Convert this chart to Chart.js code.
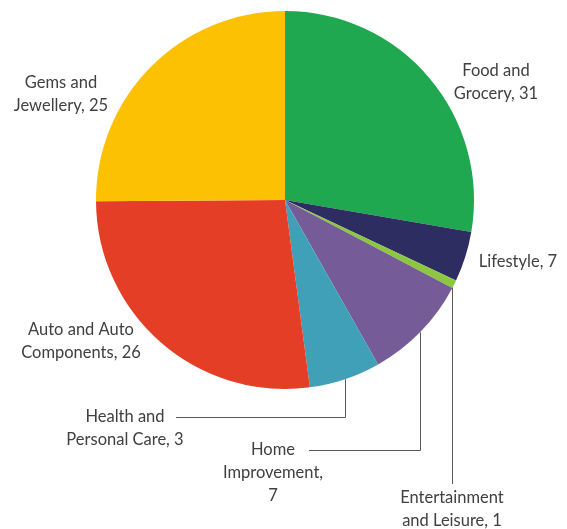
<!DOCTYPE html>
<html>
<head>
<meta charset="utf-8">
<script src="https://cdn.jsdelivr.net/npm/chart.js@4"></script>
<style>
  html, body { margin: 0; padding: 0; background: #fff; }
  #wrap { width: 567px; height: 529px; }
</style>
</head>
<body>
<div id="wrap"><canvas id="pie" width="567" height="529"></canvas></div>
<script>
// Categories, clockwise from 12 o'clock
const categories = ['Food and Grocery', 'Lifestyle', 'Entertainment and Leisure', 'Home Improvement',
    'Health and Personal Care', 'Auto and Auto Components', 'Gems and Jewellery'];
// Slice sizes as drawn (share, %)
const sliceValues = [27.7, 4.3, 0.7, 9.1, 6.1, 27.0, 25.1];
// Values printed in the data labels
const labelValues = [31, 7, 1, 7, 3, 26, 25];
// Label text lines
const labelLines = [
    ['Food and', 'Grocery, 31'],
    ['Lifestyle, 7'],
    ['Entertainment', 'and Leisure, 1'],
    ['Home', 'Improvement,', '7'],
    ['Health and', 'Personal Care, 3'],
    ['Auto and Auto', 'Components, 26'],
    ['Gems and', 'Jewellery, 25']
];
const sliceColors = ['#1fa84f', '#2e2d62', '#8dc63f', '#755c98', '#3fa0b8', '#e43e26', '#fbc102'];

// where each label sits (text centre, first line) and how its leader runs
const labelPlace = [
    { x: 496, y: 71 },
    { x: 518, y: 262 },
    { x: 452, y: 498, leader: 'down', lx: 452.5, ly: 484 },
    { x: 273, y: 450, leader: 'elbow', lx: 420, hx: 309 },
    { x: 125, y: 417, leader: 'elbow', lx: 345, hx: 176 },
    { x: 81, y: 330 },
    { x: 61, y: 83 }
];

const labelPlugin = {
    id: 'sliceLabels',
    afterDraw(chart) {
        const ctx = chart.ctx;
        const arc = chart.getDatasetMeta(0).data[0];
        const cx = arc.x, cy = arc.y, r = arc.outerRadius;
        ctx.save();
        ctx.font = '16.5px Lato, "Open Sans", sans-serif';
        ctx.fillStyle = '#404040';
        ctx.textAlign = 'center';
        ctx.textBaseline = 'middle';
        labelLines.forEach((lines, i) => {
            const p = labelPlace[i];
            lines.forEach((t, k) => ctx.fillText(t, p.x, p.y + k * 23));

            if (!p.leader) return;
            // point on the pie edge straight above the leader's x
            const edgeY = cy + Math.sqrt(r * r - (p.lx - cx) * (p.lx - cx));
            ctx.strokeStyle = '#595959';
            ctx.lineWidth = 1;
            ctx.beginPath();
            if (p.leader === 'down') {
                ctx.moveTo(p.lx, edgeY);
                ctx.lineTo(p.lx, p.ly);
            } else {
                ctx.moveTo(p.hx, p.y + 0.5);
                ctx.lineTo(p.lx + 0.5, p.y + 0.5);
                ctx.lineTo(p.lx + 0.5, edgeY);
            }
            ctx.stroke();
        });
        ctx.restore();
    }
};

new Chart(document.getElementById('pie'), {
    type: 'pie',
    data: {
        labels: categories,
        datasets: [{
            data: sliceValues,
            backgroundColor: sliceColors,
            borderWidth: 0
        }]
    },
    options: {
        responsive: false,
        devicePixelRatio: 1,
        animation: false,
        layout: { padding: { left: 96, right: 93, top: 11, bottom: 140 } },
        plugins: {
            legend: { display: false },
            tooltip: { enabled: false }
        }
    },
    plugins: [labelPlugin]
});
</script>
</body>
</html>
